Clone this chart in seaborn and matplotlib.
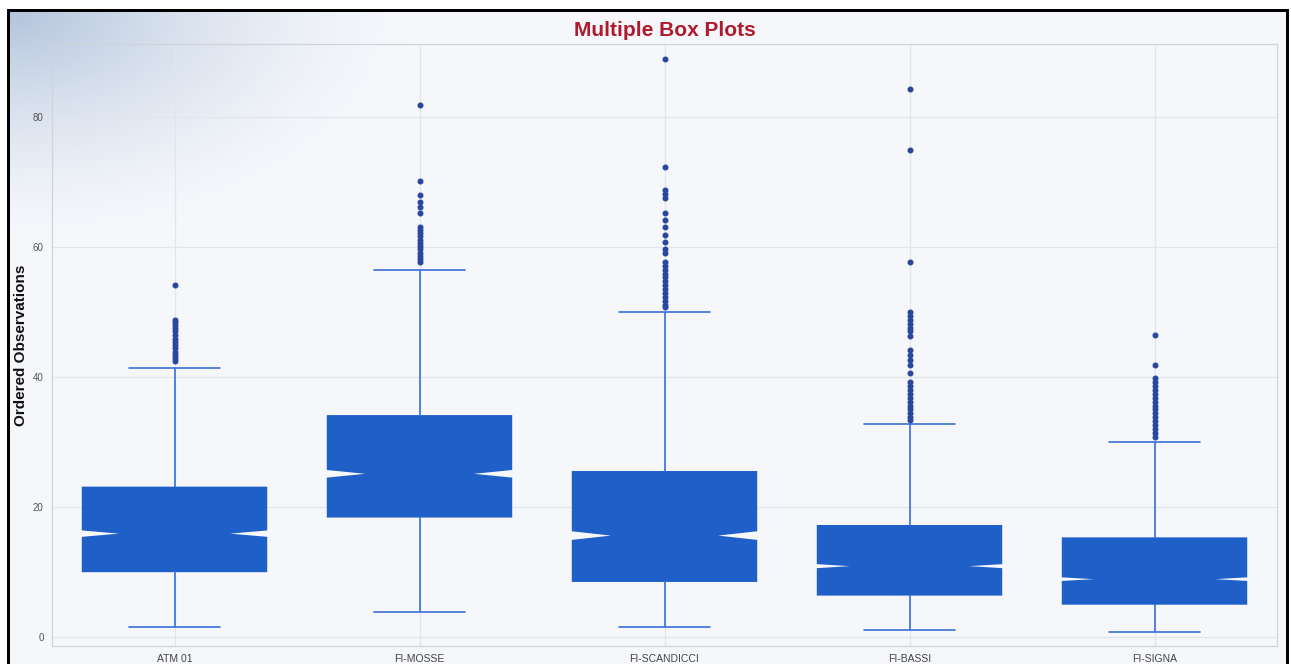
import numpy as np
import pandas as pd
import matplotlib
matplotlib.use("Agg")
import matplotlib.pyplot as plt
import seaborn as sns

# ---- data -------------------------------------------------------------
stations = ["ATM 01", "FI-MOSSE", "FI-SCANDICCI", "FI-BASSI", "FI-SIGNA"]

lower_whisker = [1.5, 3.8, 1.5, 1.1, 0.8]
first_quartile = [10.1, 18.5, 8.6, 6.5, 5.1]
medians = [15.9, 25.1, 15.6, 10.9, 8.9]
third_quartile = [23.0, 34.0, 25.4, 17.1, 15.2]
upper_whisker = [41.4, 56.5, 50.0, 32.8, 30.0]
sample_size = [1100, 1200, 1150, 1500, 1600]

outliers_atm01 = [54.2, 48.8, 48.4, 48.0, 47.5, 47.0, 46.4, 45.9, 45.4,
                  44.9, 44.4, 43.9, 43.4, 42.9, 42.5]
outliers_mosse = [81.8, 70.2, 68.0, 66.9, 66.1, 65.2, 63.1, 62.6, 62.1,
                  61.6, 61.1, 60.6, 60.1, 59.6, 59.1, 58.6, 58.1, 57.6]
outliers_scandicci = [88.9, 72.3, 68.8, 68.2, 67.5, 65.2, 64.2, 63.0, 61.8,
                      60.8, 59.7, 59.1, 57.7, 57.1, 56.5, 55.9, 55.3, 54.7,
                      54.1, 53.5, 52.9, 52.3, 51.7, 51.1, 50.8]
outliers_bassi = [84.3, 74.9, 57.7, 50.0, 49.4, 48.8, 48.2, 47.6, 47.0,
                  46.3, 44.2, 43.4, 42.6, 41.8, 40.6, 39.2, 38.6, 38.0,
                  37.4, 36.8, 36.2, 35.6, 35.0, 34.4, 33.8, 33.3]
outliers_signa = [46.5, 41.8, 39.8, 39.2, 38.6, 38.0, 37.4, 36.8, 36.2,
                  35.6, 35.0, 34.4, 33.8, 33.2, 32.6, 32.0, 31.4, 30.8]

outliers = [outliers_atm01, outliers_mosse, outliers_scandicci,
            outliers_bassi, outliers_signa]


# ---- long-form table: observations grouped so that the five-number
# summary of every station equals the values listed above ---------------
def station_observations(lo, q1, med, q3, hi, n, extremes):
    k = len(extremes)
    n_low = int(0.4 * n)
    n_mid = int(0.2 * n)
    n_high = n - 2 - k - n_low - n_mid
    return np.concatenate([[lo], np.full(n_low, q1), np.full(n_mid, med),
                           np.full(n_high, q3), [hi], extremes])


frames = []
for i, name in enumerate(stations):
    vals = station_observations(lower_whisker[i], first_quartile[i], medians[i],
                                third_quartile[i], upper_whisker[i],
                                sample_size[i], outliers[i])
    frames.append(pd.DataFrame({"Station": name, "Value": vals}))
df = pd.concat(frames, ignore_index=True)

# ---- style ------------------------------------------------------------
sns.set_theme(style="whitegrid")
plt.rcParams["font.family"] = ["Liberation Sans", "DejaVu Sans"]

W, H = 1291, 664
fig = plt.figure(figsize=(W / 100, H / 100), dpi=100)
fig.patch.set_facecolor("white")

# framed background with a soft blue wash in the upper-left corner
yy, xx = np.mgrid[0:H, 0:W].astype(float)
base = np.array([245, 247, 251]) / 255.0
corner = np.array([178, 196, 220]) / 255.0
t = np.clip(1.0 - np.sqrt(((xx - 8) / 400.0) ** 2 + ((yy - 10) / 230.0) ** 2), 0, 1) ** 1.5
bg = base[None, None, :] * (1 - t[..., None]) + corner[None, None, :] * t[..., None]
inside = (xx >= 8) & (xx <= 1287) & (yy >= 10)
bg[~inside] = 1.0
bg[(yy >= 9) & (yy <= 11) & (xx >= 7) & (xx <= 1288)] = 0.0
bg[(yy >= 9) & (xx >= 7) & (xx <= 9)] = 0.0
bg[(yy >= 9) & (xx >= 1286) & (xx <= 1288)] = 0.0
fig.figimage(bg, xo=0, yo=0, origin="upper", zorder=-5)

ax = fig.add_axes([52 / W, 1 - 646 / H, (1277 - 52) / W, (646 - 44) / H])
ax.set_facecolor("none")

box_color = "#1f5fc8"
line_color = "#3a6fd8"
flier_color = "#2a47a0"

sns.boxplot(data=df, x="Station", y="Value", order=stations, ax=ax,
            color=box_color, saturation=1, width=0.75, whis=1.5,
            linecolor=line_color, linewidth=1.2, notch=True,
            fliersize=3.3,
            boxprops=dict(facecolor=box_color, edgecolor=box_color),
            medianprops=dict(color=box_color, linewidth=0),
            whiskerprops=dict(color=line_color, linewidth=1.2),
            capprops=dict(color=line_color, linewidth=1.2),
            flierprops=dict(marker="o", markerfacecolor=flier_color,
                            markeredgecolor=flier_color, markersize=3.3))

ax.set_xlim(-0.5, 4.5)
ax.set_ylim(-1.38, 91.2)
ax.set_yticks([0, 20, 40, 60, 80])
ax.set_xlabel("")
ax.set_ylabel("")
ax.grid(True, color="#e2e5eb", linewidth=0.9)
ax.set_axisbelow(True)
for sp in ax.spines.values():
    sp.set_visible(True)
    sp.set_color("#cfd3da")
    sp.set_linewidth(0.9)
ax.tick_params(axis="both", length=0)
ax.tick_params(axis="x", labelsize=7.5, labelcolor="#444444", pad=5.5)
ax.tick_params(axis="y", labelsize=7, labelcolor="#555555", pad=6)

fig.text(664.5 / W, 1 - 30 / H, "Multiple Box Plots", ha="center", va="center",
         fontsize=15, fontweight="bold", color="#b01a2c")
fig.text(21 / W, 1 - 345 / H, "Ordered Observations", ha="center", va="center",
         rotation=90, fontsize=11, fontweight="bold", color="#111111")

fig.savefig("out.png", dpi=100)
